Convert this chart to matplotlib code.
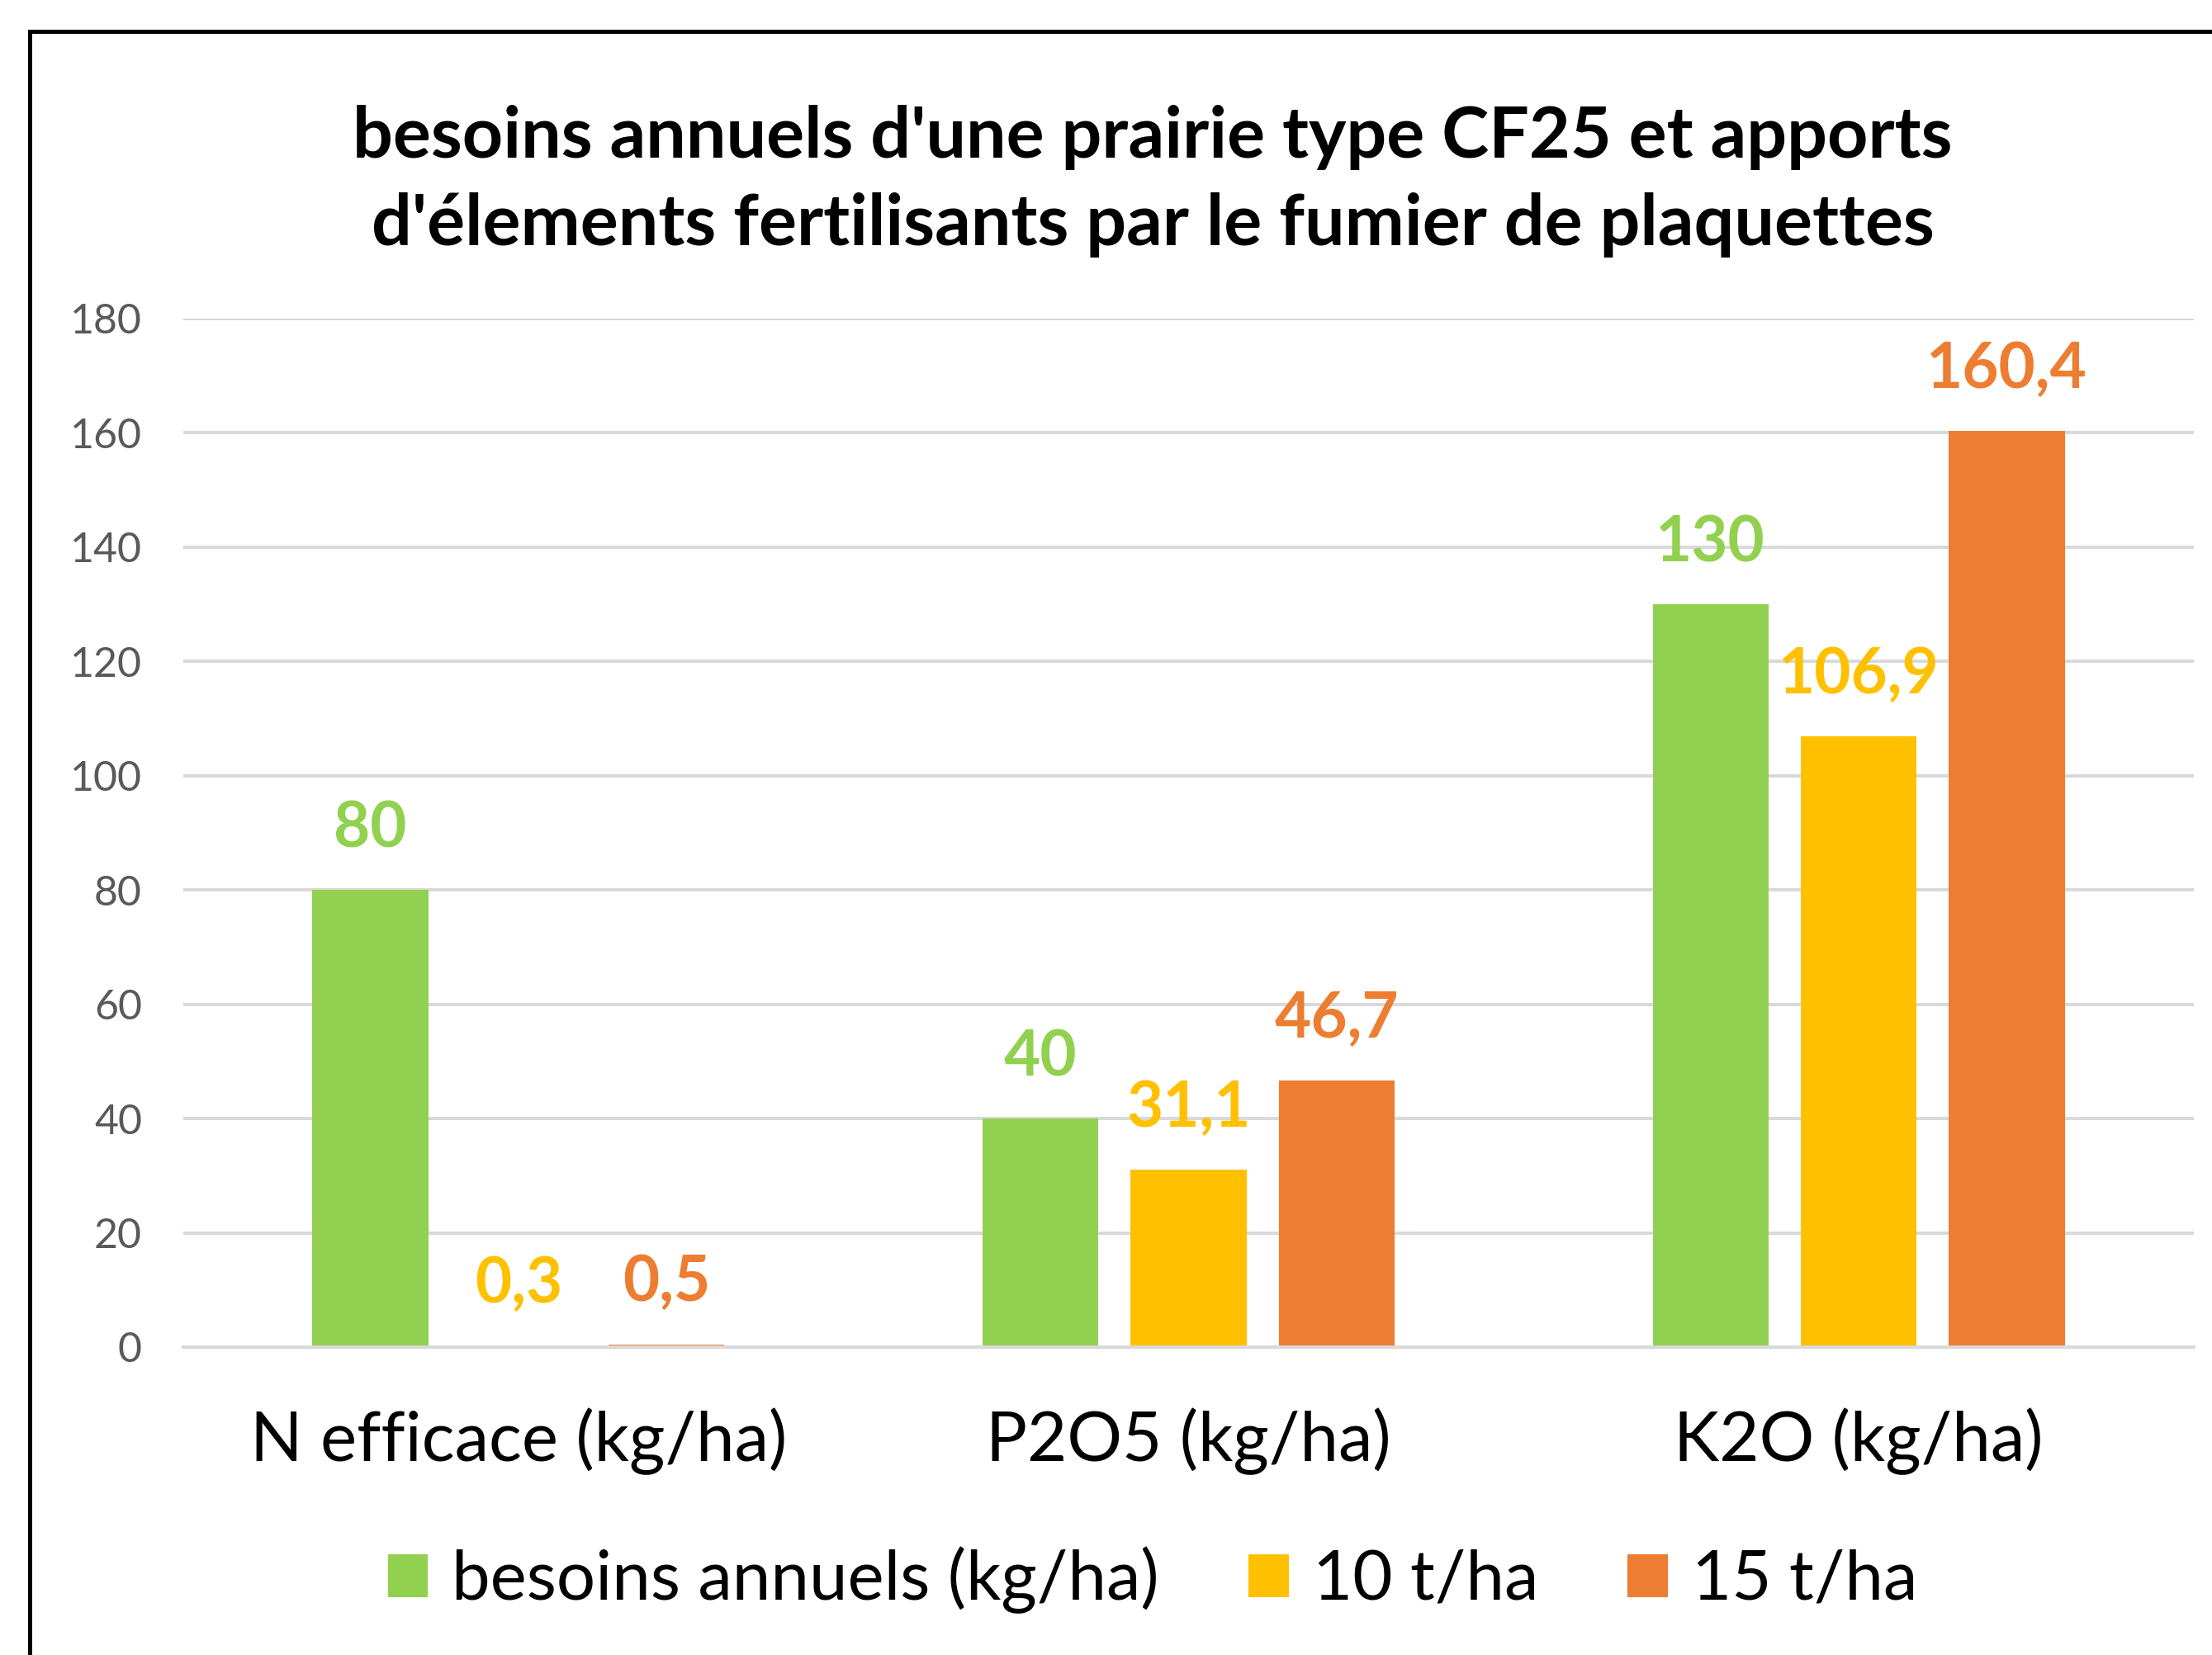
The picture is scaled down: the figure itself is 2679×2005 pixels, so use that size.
import matplotlib
matplotlib.use("Agg")
import matplotlib.pyplot as plt
import numpy as np
from matplotlib.patches import Patch
from matplotlib.lines import Line2D

plt.rcParams['font.family'] = ['Lato', 'DejaVu Sans']

categories = ["N efficace (kg/ha)", "P2O5 (kg/ha)", "K2O (kg/ha)"]
series_names = ["besoins annuels (kg/ha)", "10 t/ha", "15 t/ha"]
besoins = [80, 40, 130]
t10 = [0.3, 31.1, 106.9]
t15 = [0.5, 46.7, 160.4]
label_besoins = ["80", "40", "130"]
label_t10 = ["0,3", "31,1", "106,9"]
label_t15 = ["0,5", "46,7", "160,4"]
yticks = [0, 20, 40, 60, 80, 100, 120, 140, 160, 180]
title_lines = ["besoins annuels d'une prairie type CF25 et apports",
               "d'élements fertilisants par le fumier de plaquettes"]

colors = ["#92D050", "#FFC000", "#ED7D31"]

W, H = 2679, 2005
fig = plt.figure(figsize=(W / 100, H / 100), dpi=100)
ax = fig.add_axes([222 / W, 1 - 1632 / H, (2657 - 222) / W, (1632 - 386) / H])

x = np.arange(len(categories))
width = 0.173
step = 0.221
all_vals = [besoins, t10, t15]
all_labels = [label_besoins, label_t10, label_t15]
for i, (vals, labs, c) in enumerate(zip(all_vals, all_labels, colors)):
    pos = x + (i - 1) * step
    ax.bar(pos, vals, width=width, color=c, zorder=3)
    for p, v, l in zip(pos, vals, labs):
        ax.annotate(l, (p, v), xytext=(0, 37.5), textcoords='offset points',
                    ha='center', va='baseline', fontsize=55, fontweight='bold',
                    color=c, zorder=6)

ax.set_xlim(-0.5, 2.5)
ax.set_ylim(0, 180)
ax.set_yticks(yticks)
ax.set_yticklabels([str(t) for t in yticks], fontsize=36, color="#595959")
ax.set_xticks(x)
ax.set_xticklabels(categories, fontsize=60, color="black")
ax.tick_params(axis='y', length=0, pad=36)
ax.tick_params(axis='x', length=0, pad=53)
ax.grid(axis='y', color="#D9D9D9", linewidth=2.9, zorder=0)
ax.set_axisbelow(True)
# baseline gridline drawn over the bars' feet
ax.axhline(0, color="#D9D9D9", linewidth=2.9, zorder=5, clip_on=False)
for s in ax.spines.values():
    s.set_visible(False)

for j, line in enumerate(title_lines):
    fig.text(1396 / W, 1 - (191 + 106 * j) / H, line, ha='center', va='baseline',
             fontsize=62, fontweight='bold', color='black')

handles = [Patch(facecolor=c, edgecolor='none') for c in colors]
fig.legend(handles, series_names, loc='center', bbox_to_anchor=(1396 / W, 1 - 1914 / H),
           ncol=3, frameon=False, fontsize=60, handlelength=0.58, handleheight=0.58,
           handletextpad=0.35, columnspacing=1.3)

# chart frame (left and top edges visible)
fig.add_artist(Line2D([36 / W, 36 / W, 1.0], [0.0, 1 - 38 / H, 1 - 38 / H],
                      transform=fig.transFigure, color='black', linewidth=3.6,
                      solid_joinstyle='miter'))

fig.savefig("out.png", dpi=100)
